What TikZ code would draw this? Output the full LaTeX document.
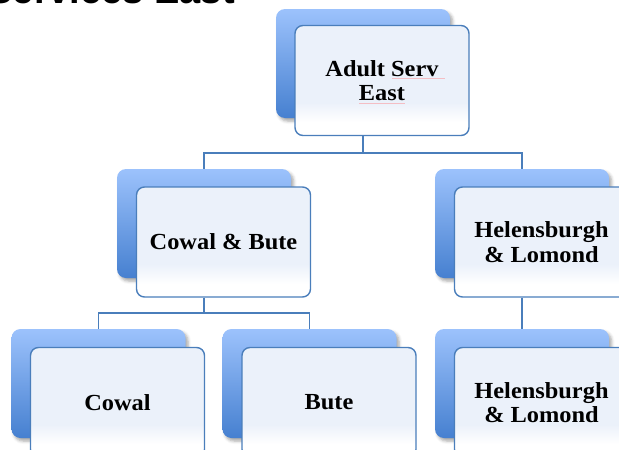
\documentclass[tikz,border=0pt]{standalone}
\usepackage{fontspec}
\newfontfamily\titlefont{Liberation Sans}
\newfontfamily\cardfont{Liberation Serif}[FakeStretch=1.06]
\usetikzlibrary{shadows.blur}

\definecolor{edgeblue}{HTML}{4A7EBB}
\definecolor{backtop}{HTML}{9CC2FC}
\definecolor{backbot}{HTML}{4680D0}
\definecolor{frontfill}{HTML}{EBF1FA}
\definecolor{spellred}{HTML}{F4BEC4}

% light tint over most of the card, fading to white near its lower edge
\pgfdeclareverticalshading{frontshade}{100bp}{color(0bp)=(white); color(31bp)=(white); color(40bp)=(frontfill); color(100bp)=(frontfill)}

\begin{document}
\begin{tikzpicture}[x=1pt,y=-1pt,
  backbox/.style={rectangle, rounded corners=9pt, minimum width=174pt,
    minimum height=109pt, inner sep=0pt, top color=backtop, bottom color=backbot,
    blur shadow={shadow xshift=2.5pt, shadow yshift=-3pt, shadow blur radius=3pt,
      shadow opacity=35}},
  frontbox/.style={rectangle, rounded corners=8pt, draw=edgeblue, line width=1.4pt,
    minimum width=174pt, minimum height=110pt, inner sep=0pt, shade, shading=frontshade,
    align=center, font=\cardfont\bfseries\fontsize{23}{24.5}\selectfont},
  link/.style={draw=edgeblue, line width=1.5pt}]

\useasboundingbox (0,0) rectangle (619,450);
\clip (0,0) rectangle (619,450);

% page heading, mostly above the visible area
\node[anchor=base east, inner sep=0pt, font=\titlefont\bfseries\fontsize{38}{40}\selectfont]
  (title) at (235,3) {Services East};

% cards: a shaded back plate and a framed front card
\node[backbox] (topB) at (363,63.5) {};
\node[frontbox] (topF) at (382,80.5) {Adult Serv\\East};

\node[backbox] (cbB) at (204,223.5) {};
\node[frontbox] (cbF) at (223.5,242) {Cowal \& Bute};

\node[backbox] (hlB) at (522,223.5) {};
\node[frontbox] (hlF) at (541.5,242) {Helensburgh\\\& Lomond};

\node[backbox] (cwB) at (98.5,383.5) {};
\node[frontbox] (cwF) at (117.5,402.5) {Cowal};

\node[backbox] (btB) at (309.5,383.5) {};
\node[frontbox] (btF) at (329,402.5) {Bute};

\node[backbox] (hl2B) at (522,383.5) {};
\node[frontbox] (hl2F) at (541.5,402.5) {Helensburgh\\\& Lomond};

% spelling marks under the top label
\draw[spellred, line width=0.6pt] (392,78.5) -- (445,78.5);
\draw[spellred, line width=0.6pt] (359,103) -- (405,103);

% connectors
\coordinate (j1) at (topB |- 0,153);
\draw[link] (topB |- topF.south) -- (j1);
\draw[link] (j1) -| (cbB.north);
\draw[link] (j1) -| (hlB.north);

\coordinate (j2) at (cbB |- 0,313);
\draw[link] (cbB |- cbF.south) -- (j2);
\draw[link] (j2) -| (cwB.north);
\draw[link] (j2) -| (btB.north);

\draw[link] (hlB |- hlF.south) -- (hl2B.north);
\end{tikzpicture}
\end{document}
